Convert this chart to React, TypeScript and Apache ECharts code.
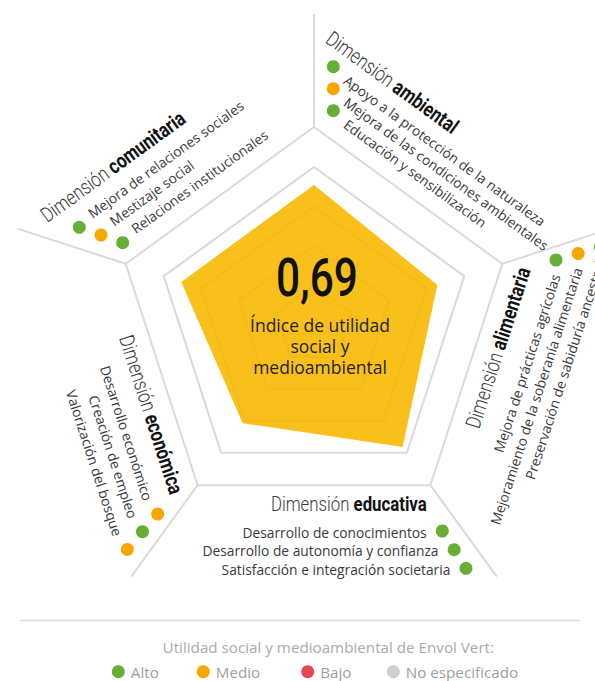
import React, { useEffect, useRef } from 'react';
import * as echarts from 'echarts';

// ---------- data ----------
const indexLabel = '0,69';
const indexCaption = ['Índice de utilidad', 'social y', 'medioambiental'];
const radarIndicators = ['v-top', 'v-left', 'v-lowerleft', 'v-lowerright', 'v-right'];
const radarValues = [0.886, 0.883, 0.768, 0.954, 0.821];

const levelNames = ['Alto', 'Medio', 'Bajo', 'No especificado'];
const levelColors = ['#67AE34', '#F8A700', '#E7464F', '#CFCFCF'];
const legendTitle = 'Utilidad social y medioambiental de Envol Vert:';

const comunitariaItems = ['Mejora de relaciones sociales', 'Mestizaje social', 'Relaciones institucionales'];
const comunitariaLevels = ['Alto', 'Medio', 'Alto'];
const ambientalItems = ['Apoyo a la protección de la naturaleza', 'Mejora de las condiciones ambientales', 'Educación y sensibilización'];
const ambientalLevels = ['Alto', 'Medio', 'Alto'];
const alimentariaItems = ['Mejora de prácticas agrícolas', 'Mejoramiento de la soberanía alimentaria', 'Preservación de sabiduría ancestral'];
const alimentariaLevels = ['Alto', 'Medio', 'Alto'];
const educativaItems = ['Desarrollo de conocimientos', 'Desarrollo de autonomía y confianza', 'Satisfacción e integración societaria'];
const educativaLevels = ['Alto', 'Alto', 'Alto'];
const economicaItems = ['Desarrollo económico', 'Creación de empleo', 'Valorización del bosque'];
const economicaLevels = ['Medio', 'Alto', 'Medio'];

// ---------- layout ----------
const W = 595, H = 681;
const CX = 314, CY = 325;
const R_INNER = 158, R_OUTER = 198, R_SPOKE = 311;
const DEG = Math.PI / 180;
const GRID = '#DADADA';
const YELLOW = '#F9C01B';
const TITLE_FONT = "Roboto, 'Noto Sans', sans-serif";
const BODY_FONT = "'Open Sans', Lato, 'Noto Sans', sans-serif";
const ITEM_FS = 13.8;
const TITLE_FS = 21;
const TITLE_SCALE = 0.8;
const DOT_R = 6.5;

const sectors = [
  { title: 'comunitaria', items: comunitariaItems, levels: comunitariaLevels, rot: 36, align: 'left', dot0: [79.3, 227.3], step: [21.7, 7.7], du: 15.7, dn: 4.4, titleAt: [43, 217.5] },
  { title: 'ambiental', items: ambientalItems, levels: ambientalLevels, rot: -36, align: 'left', dot0: [333.3, 66.7], step: [0, 22], du: 16.9, dn: -2.3, titleAt: [328.5, 36.1] },
  { title: 'alimentaria', items: alimentariaItems, levels: alimentariaLevels, rot: 72, align: 'right', dot0: [556, 260], step: [22.2, -6.5], du: -14, dn: -4, titleAt: [524, 268] },
  { title: 'educativa', items: educativaItems, levels: educativaLevels, rot: 0, align: 'right', dot0: [442.3, 531], step: [11.85, 18.65], du: -15.6, dn: -1, titleAt: [426.7, 504] },
  { title: 'económica', items: economicaItems, levels: economicaLevels, rot: -72, align: 'right', dot0: [157.7, 514], step: [-15.2, 17.7], du: -16.2, dn: -4.5, titleAt: [176.7, 493.3] },
];

const levelColor = (lv: string) => levelColors[levelNames.indexOf(lv)];
const polar = (r: number, a: number) => [CX + r * Math.cos(a * DEG), CY - r * Math.sin(a * DEG)];

function buildGraphics() {
  const els: any[] = [];
  [90, 162, 234, 306, 18].forEach((a) => {
    const p1 = polar(R_OUTER, a), p2 = polar(R_SPOKE, a);
    els.push({ type: 'line', z: 10, silent: true, shape: { x1: p1[0], y1: p1[1], x2: p2[0], y2: p2[1] }, style: { stroke: GRID, lineWidth: 2 } });
  });
  sectors.forEach((s) => {
    const t = s.rot * DEG;
    const u = [Math.cos(t), -Math.sin(t)];
    const n = [-Math.sin(t), -Math.cos(t)];
    els.push({
      type: 'text', z: 10, silent: true, x: s.titleAt[0], y: s.titleAt[1], rotation: t, scaleX: TITLE_SCALE,
      style: {
        text: '{l|Dimensión }{b|' + s.title + '}', align: s.align, verticalAlign: 'middle',
        rich: {
          l: { fontFamily: TITLE_FONT, fontSize: TITLE_FS, fontWeight: 300, fill: '#3a3a3a' },
          b: { fontFamily: TITLE_FONT, fontSize: TITLE_FS, fontWeight: 'bold', fill: '#111' },
        },
      },
    });
    s.items.forEach((it, k) => {
      const dx = s.dot0[0] + s.step[0] * k, dy = s.dot0[1] + s.step[1] * k;
      els.push({ type: 'circle', z: 10, silent: true, shape: { cx: dx, cy: dy, r: DOT_R }, style: { fill: levelColor(s.levels[k]) } });
      const ax = dx + u[0] * s.du + n[0] * s.dn, ay = dy + u[1] * s.du + n[1] * s.dn;
      els.push({
        type: 'text', z: 10, silent: true, x: ax, y: ay, rotation: t,
        style: { text: it, align: s.align, verticalAlign: 'middle', fontFamily: BODY_FONT, fontSize: ITEM_FS, fontWeight: 'normal', fill: '#3a3a3a' },
      });
    });
  });
  els.push({ type: 'text', z: 20, silent: true, x: 317, y: 277.5, scaleX: 0.8, style: { text: indexLabel, align: 'center', verticalAlign: 'middle', fontFamily: TITLE_FONT, fontSize: 53, fontWeight: 500, fill: '#111' } });
  els.push({
    type: 'text', z: 20, silent: true, x: 320, y: 346.3,
    style: { text: indexCaption.join('\n'), align: 'center', verticalAlign: 'middle', lineHeight: 21.2, fontFamily: BODY_FONT, fontSize: 17.5, fill: '#222' },
  });
  els.push({ type: 'line', z: 10, silent: true, shape: { x1: 20, y1: 620.5, x2: 580, y2: 620.5 }, style: { stroke: '#DDDDDD', lineWidth: 1.5 } });
  els.push({ type: 'text', z: 10, silent: true, x: 328.3, y: 646.7, style: { text: legendTitle, align: 'center', verticalAlign: 'middle', fontFamily: BODY_FONT, fontSize: 15.2, fill: '#AAAAAA' } });
  const legendDotX = [118.3, 203.3, 307.7, 393.3];
  levelNames.forEach((nm, i) => {
    els.push({ type: 'circle', z: 10, silent: true, shape: { cx: legendDotX[i], cy: 671.7, r: DOT_R }, style: { fill: levelColors[i] } });
    els.push({ type: 'text', z: 10, silent: true, x: legendDotX[i] + 12.5, y: 672.2, style: { text: nm, align: 'left', verticalAlign: 'middle', fontFamily: BODY_FONT, fontSize: 15.2, fill: '#9E9E9E' } });
  });
  return els;
}

function radarBase(radius: number, split: number, color: string, width: number, z: number) {
  return {
    center: [CX, CY], radius, startAngle: 90, splitNumber: split, shape: 'polygon', z,
    indicator: radarIndicators.map((nm) => ({ name: nm, min: 0, max: 1 })),
    axisName: { show: false },
    axisLine: { show: false }, axisTick: { show: false }, axisLabel: { show: false },
    splitArea: { show: false },
    splitLine: { show: true, lineStyle: { color, width } },
  };
}

export default function App() {
  const ref = useRef<HTMLDivElement>(null);
  useEffect(() => {
    if (!ref.current) return;
    const chart = echarts.init(ref.current, null, { renderer: 'svg' });
    chart.setOption({
      animation: false,
      backgroundColor: '#fff',
      radar: [
        radarBase(R_INNER, 4, 'rgba(190,120,0,0.07)', 2, 3),
        radarBase(R_INNER, 1, GRID, 2, 4),
        radarBase(R_OUTER, 1, GRID, 2, 4),
      ],
      series: [{
        type: 'radar', radarIndex: 0, silent: true, symbol: 'none', z: 2,
        lineStyle: { width: 0 },
        areaStyle: { color: YELLOW, opacity: 1 },
        data: [{ value: radarValues, name: 'Índice' }],
      }],
      graphic: { elements: buildGraphics() },
    });
    return () => chart.dispose();
  }, []);
  return <div ref={ref} style={{ position: 'absolute', left: 0, top: 0, width: W, height: H }} />;
}
